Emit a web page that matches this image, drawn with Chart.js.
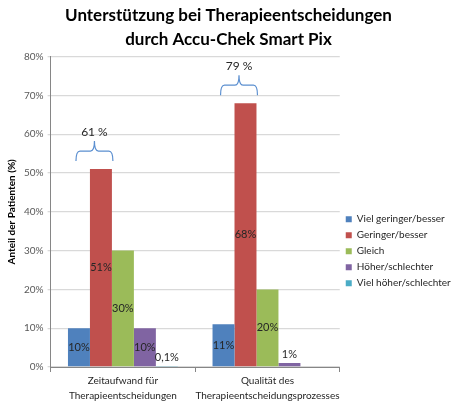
<!DOCTYPE html>
<html>
<head>
<meta charset="utf-8">
<script src="https://cdn.jsdelivr.net/npm/chart.js@4"></script>
<style>
  html, body { margin: 0; padding: 0; background: #fff; }
  #wrap { width: 455px; height: 404px; }
</style>
</head>
<body>
<div id="wrap"><canvas id="chart"></canvas></div>
<script>
// data
const categories = [['Zeitaufwand für', 'Therapieentscheidungen'], ['Qualität des', 'Therapieentscheidungsprozesses']];
const seriesNames = ['Viel geringer/besser', 'Geringer/besser', 'Gleich', 'Höher/schlechter', 'Viel höher/schlechter'];
const vielGeringer = [10, 11];
const geringer = [51, 68];
const gleich = [30, 20];
const hoeher = [10, 1];
const vielHoeher = [0.1, null];
const yTicks = [0, 10, 20, 30, 40, 50, 60, 70, 80];

const colors = ['#4F81BD', '#C0504D', '#9BBB59', '#8064A2', '#4BACC6'];
const FONT = 'Lato, "Open Sans", sans-serif';

function pct(v) {
  return String(v).replace('.', ',') + '%';
}

// value labels: inside the bar when it is tall enough, else above it
const valueLabels = {
  id: 'valueLabels',
  afterDatasetsDraw(chart) {
    const ctx = chart.ctx;
    ctx.save();
    ctx.font = '11px ' + FONT;
    ctx.fillStyle = '#262626';
    ctx.textAlign = 'center';
    ctx.textBaseline = 'middle';
    chart.data.datasets.forEach((ds, di) => {
      chart.getDatasetMeta(di).data.forEach((bar, i) => {
        const v = ds.data[i];
        if (v == null) return;
        if (v >= 5) {
          ctx.fillText(pct(v), bar.x, (bar.y + bar.base) / 2);
        } else {
          ctx.fillText(pct(v), bar.x, bar.y - 9);
        }
      });
    });
    ctx.restore();
  }
};

// curly brace over the first two bars of each group with their sum
const braces = {
  id: 'braces',
  afterDatasetsDraw(chart) {
    const ctx = chart.ctx;
    const m0 = chart.getDatasetMeta(0).data;
    const m1 = chart.getDatasetMeta(1).data;
    ctx.save();
    ctx.strokeStyle = '#5B8FD0';
    ctx.lineWidth = 1.2;
    categories.forEach((c, i) => {
      const b0 = m0[i], b1 = m1[i];
      const x1 = b0.x - b0.width / 2 + 8;
      const x2 = b1.x + b1.width / 2 + 1;
      const xm = (x1 + x2) / 2;
      const yEnd = Math.min(b0.y, b1.y) - 8;
      const yH = yEnd - 10;
      const yTip = yH - 10;
      ctx.beginPath();
      ctx.moveTo(x1, yEnd);
      ctx.quadraticCurveTo(x1, yH, x1 + 4, yH);
      ctx.lineTo(xm - 4, yH);
      ctx.quadraticCurveTo(xm, yH, xm, yTip);
      ctx.moveTo(xm, yTip);
      ctx.quadraticCurveTo(xm, yH, xm + 4, yH);
      ctx.lineTo(x2 - 4, yH);
      ctx.quadraticCurveTo(x2, yH, x2, yEnd);
      ctx.stroke();
      ctx.font = '12px ' + FONT;
      ctx.fillStyle = '#262626';
      ctx.textAlign = 'center';
      ctx.textBaseline = 'middle';
      const sum = vielGeringer[i] + geringer[i];
      ctx.fillText(sum + ' %', xm, yTip - 9);
    });
    ctx.restore();
  }
};

const seriesData = [vielGeringer, geringer, gleich, hoeher, vielHoeher];

new Chart(document.getElementById('chart'), {
  type: 'bar',
  data: {
    labels: categories,
    datasets: seriesNames.map((name, i) => ({
      label: name,
      data: seriesData[i],
      backgroundColor: colors[i],
      borderWidth: 0,
      barPercentage: 1,
      categoryPercentage: 0.76
    }))
  },
  options: {
    responsive: true,
    maintainAspectRatio: false,
    animation: false,
    layout: { padding: { top: 0, left: 6, right: 4, bottom: 0 } },
    plugins: {
      title: {
        display: true,
        text: ['Unterstützung bei Therapieentscheidungen', 'durch Accu-Chek Smart Pix'],
        color: '#000',
        font: { family: FONT, size: 17, weight: 'bold', lineHeight: 1.4 },
        padding: { top: 4, bottom: 5 }
      },
      tooltip: { enabled: false },
      legend: {
        position: 'right',
        align: 'center',
        title: { display: true, text: '', padding: { top: 84, bottom: 0 } },
        labels: {
          boxWidth: 6,
          boxHeight: 6,
          padding: 6,
          color: '#262626',
          font: { family: FONT, size: 10 }
        }
      }
    },
    scales: {
      x: {
        grid: { display: true, drawOnChartArea: false, offset: true, tickLength: 5, color: '#868686' },
        border: { color: '#868686' },
        ticks: { color: '#262626', font: { family: FONT, size: 10, lineHeight: 1.5 }, maxRotation: 0, autoSkip: false, padding: 1 }
      },
      y: {
        min: 0,
        max: 80,
        afterBuildTicks(axis) { axis.ticks = yTicks.map(v => ({ value: v })); },
        grid: { color: '#D9D9D9', lineWidth: 1.3, tickLength: 3 },
        border: { color: '#868686' },
        ticks: { color: '#595959', font: { family: FONT, size: 10 }, padding: 4, callback: v => v + '%' },
        title: {
          display: true,
          text: 'Anteil der Patienten (%)',
          color: '#000',
          font: { family: FONT, size: 10, weight: 'bold' },
          padding: { top: 0, bottom: 2 }
        }
      }
    }
  },
  plugins: [valueLabels, braces]
});
</script>
</body>
</html>
